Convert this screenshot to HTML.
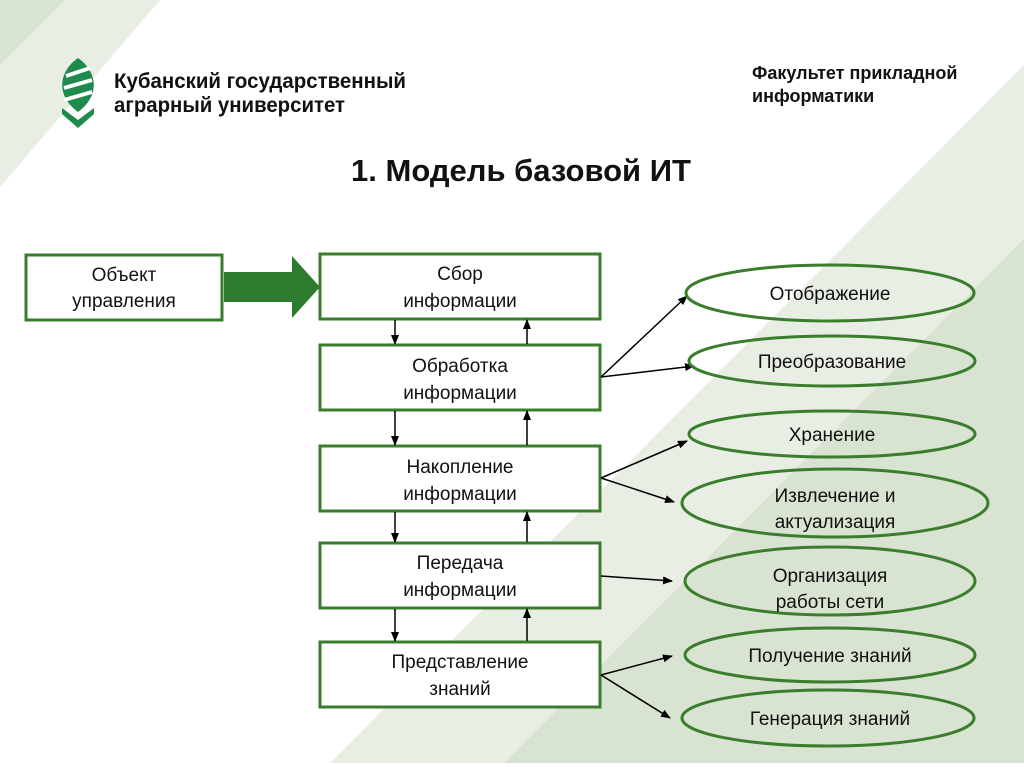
<!DOCTYPE html>
<html><head><meta charset="utf-8"><style>
html,body{margin:0;padding:0;background:#fff}
svg{display:block}
text{font-family:"Liberation Sans",sans-serif;fill:#111}
</style></head><body>
<svg width="1024" height="767" viewBox="0 0 1024 767" xmlns="http://www.w3.org/2000/svg">
<defs>
<marker id="a" markerWidth="10" markerHeight="8" refX="9" refY="4" orient="auto" markerUnits="userSpaceOnUse">
<path d="M0,0 L10,4 L0,8 z" fill="#000"/></marker>
</defs>
<rect width="1024" height="767" fill="#fff"/>
<polygon points="1024,65 1024,763 330,763" fill="#e9eee4"/>
<polygon points="1024,239 1024,763 504,763" fill="#d9e3d1"/>
<polygon points="65,0 160,0 0,187 0,65" fill="#e9eee4"/>
<polygon points="0,0 65,0 0,65" fill="#d9e3d1"/>
<!-- logo -->
<g>
<path d="M78,58 C98,72 100,96 78,112 C56,96 58,72 78,58 z" fill="#1e8a4c"/>
<path d="M66,76 L90,68 M64,88 L92,80 M64,100 L92,92" stroke="#fff" stroke-width="4"/>
<path d="M62,108 L78,120 L94,108 L94,114 L78,128 L62,114 z" fill="#1e8a4c"/>
</g>
<text x="114" y="88" font-size="21" font-weight="bold" fill="#333" textLength="292" lengthAdjust="spacingAndGlyphs">Кубанский государственный</text>
<text x="114" y="112" font-size="21" font-weight="bold" fill="#333" textLength="231" lengthAdjust="spacingAndGlyphs">аграрный университет</text>
<text x="752" y="79" font-size="18" font-weight="bold">Факультет прикладной</text>
<text x="752" y="102" font-size="18" font-weight="bold">информатики</text>
<text x="521" y="181" font-size="31" font-weight="bold" fill="#333" text-anchor="middle">1. Модель базовой ИТ</text>
<!-- boxes -->
<g fill="#fff" stroke="#3a7d2c" stroke-width="3">
<rect x="26" y="255" width="196" height="65"/>
<rect x="320" y="254" width="280" height="65"/>
<rect x="320" y="345" width="280" height="65"/>
<rect x="320" y="446" width="280" height="65"/>
<rect x="320" y="543" width="280" height="65"/>
<rect x="320" y="642" width="280" height="65"/>
</g>
<polygon points="224,272 292,272 292,256 320,287 292,318 292,302 224,302" fill="#2e7a2e"/>
<g font-size="19" text-anchor="middle">
<text x="124" y="281">Объект</text><text x="124" y="307">управления</text>
<text x="460" y="280">Сбор</text><text x="460" y="307">информации</text>
<text x="460" y="372">Обработка</text><text x="460" y="399">информации</text>
<text x="460" y="473">Накопление</text><text x="460" y="500">информации</text>
<text x="460" y="569">Передача</text><text x="460" y="596">информации</text>
<text x="460" y="668">Представление</text><text x="460" y="695">знаний</text>
</g>
<g stroke="#000" stroke-width="1.5" marker-end="url(#a)">
<line x1="395" y1="320" x2="395" y2="344"/><line x1="527" y1="344" x2="527" y2="320"/>
<line x1="395" y1="411" x2="395" y2="445"/><line x1="527" y1="445" x2="527" y2="411"/>
<line x1="395" y1="512" x2="395" y2="542"/><line x1="527" y1="542" x2="527" y2="512"/>
<line x1="395" y1="609" x2="395" y2="641"/><line x1="527" y1="641" x2="527" y2="609"/>
<line x1="601" y1="377" x2="687" y2="296"/><line x1="601" y1="377" x2="694" y2="366"/>
<line x1="601" y1="478" x2="687" y2="441"/><line x1="601" y1="478" x2="674" y2="502"/>
<line x1="601" y1="576" x2="672" y2="581"/>
<line x1="601" y1="675" x2="672" y2="656"/><line x1="601" y1="675" x2="670" y2="718"/>
</g>
<g fill="none" stroke="#3a7d2c" stroke-width="3">
<ellipse cx="830" cy="293" rx="144" ry="28"/>
<ellipse cx="832" cy="361" rx="143" ry="25"/>
<ellipse cx="832" cy="434" rx="143" ry="23"/>
<ellipse cx="835" cy="503" rx="153" ry="34"/>
<ellipse cx="830" cy="581" rx="145" ry="34"/>
<ellipse cx="830" cy="655" rx="145" ry="27"/>
<ellipse cx="828" cy="718" rx="146" ry="28"/>
</g>
<g font-size="19" text-anchor="middle">
<text x="830" y="300">Отображение</text>
<text x="832" y="368">Преобразование</text>
<text x="832" y="441">Хранение</text>
<text x="835" y="502">Извлечение и</text><text x="835" y="528">актуализация</text>
<text x="830" y="582">Организация</text><text x="830" y="608">работы сети</text>
<text x="830" y="662">Получение знаний</text>
<text x="830" y="725">Генерация знаний</text>
</g>
</svg>
</body></html>
